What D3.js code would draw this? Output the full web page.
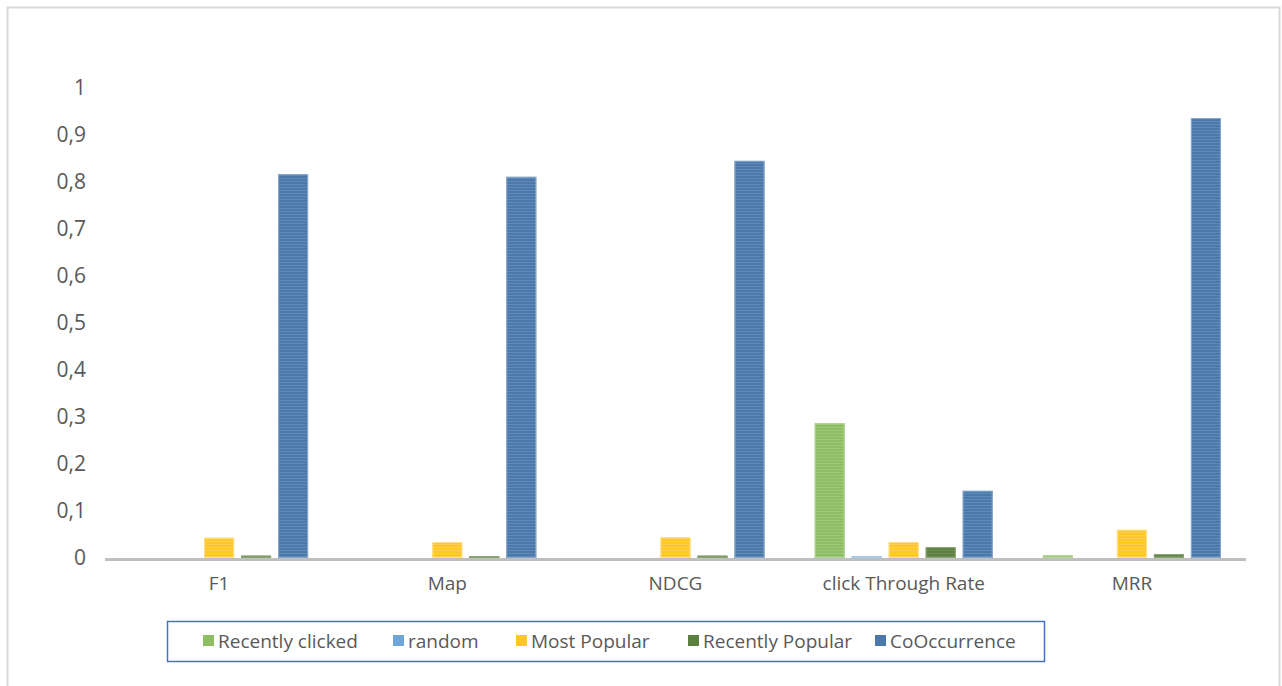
<!DOCTYPE html>
<html><head><meta charset="utf-8">
<script src="https://cdn.jsdelivr.net/npm/d3@7"></script>
<style>body{margin:0;background:#fff}svg{display:block}</style>
</head><body><svg id="c" width="1282" height="686"></svg>
<script>
const categories = ["F1", "Map", "NDCG", "click Through Rate", "MRR"];
const seriesNames = ["Recently clicked", "random", "Most Popular", "Recently Popular", "CoOccurrence"];
const recentlyClicked = [0, 0, 0, 0.287, 0.006];
const random = [0, 0, 0, 0.004, 0];
const mostPopular = [0.043, 0.034, 0.044, 0.034, 0.060];
const recentlyPopular = [0.005, 0.004, 0.005, 0.023, 0.008];
const coOccurrence = [0.817, 0.811, 0.845, 0.143, 0.936];
const yTicks = [0, 0.1, 0.2, 0.3, 0.4, 0.5, 0.6, 0.7, 0.8, 0.9, 1];

const seriesValues = [recentlyClicked, random, mostPopular, recentlyPopular, coOccurrence];
const colors = ["#8DBE64", "#6FA6DA", "#FFC726", "#5A7F3E", "#4A79AA"];
const stripe = ["#9FC87B", "#89B6E2", "#FFD04D", "#6E8E56", "#6189B7"];
const edge = ["#B5D69A", "#A9CBEB", "#FFE08A", "#8AA573", "#86A8CC"];

const svg = d3.select("#c");
const loc = d3.formatLocale({decimal: ",", thousands: ".", grouping: [3], currency: ["", ""]});
const fmt = v => v === 0 ? "0" : (v === 1 ? "1" : loc.format(".1f")(v));

// outer frame
svg.append("rect").attr("x", 7.5).attr("y", 7.5).attr("width", 1272).attr("height", 690)
  .attr("fill", "none").attr("stroke", "#D9D9D9").attr("stroke-width", 2);

const pLeft = 105, pRight = 1246, pTop = 88, pBottom = 558;
const groupW = 178;
const x0 = d3.scaleBand().domain(categories).range([pLeft, pRight]).paddingInner(0).paddingOuter(0);
const x1 = d3.scaleBand().domain(d3.range(5)).range([0, groupW]).paddingInner(7 / 37).paddingOuter(0);
const y = d3.scaleLinear().domain([0, 1]).range([pBottom, pTop]);

const defs = svg.append("defs");
colors.forEach((c, i) => {
  const p = defs.append("pattern").attr("id", "p" + i).attr("patternUnits", "userSpaceOnUse")
    .attr("width", 4).attr("height", 3);
  p.append("rect").attr("width", 4).attr("height", 3).attr("fill", c);
  p.append("rect").attr("y", 1).attr("width", 4).attr("height", 1).attr("fill", stripe[i]);
});

// y axis labels
const yAxis = d3.axisLeft(y).tickValues(yTicks).tickFormat(fmt).tickSize(0).tickPadding(0);
const gy = svg.append("g").attr("transform", "translate(86,0)").call(yAxis);
gy.select(".domain").remove();
gy.selectAll("text").attr("font-family", "Open Sans, sans-serif").attr("font-size", 21).attr("fill", "#595959");

// bars
categories.forEach((cat, ci) => {
  const gx = x0(cat) + (x0.bandwidth() - groupW) / 2;
  seriesValues.forEach((vals, si) => {
    const v = vals[ci];
    if (v <= 0) return;
    const bx = gx + x1(si), bw = x1.bandwidth();
    const by = y(v), bh = pBottom - y(v);
    svg.append("rect").attr("x", bx).attr("y", by).attr("width", bw).attr("height", bh)
      .attr("fill", "url(#p" + si + ")");
    svg.append("rect").attr("x", bx + 0.5).attr("y", by + 0.5).attr("width", bw - 1).attr("height", Math.max(bh - 1, 0))
      .attr("fill", "none").attr("stroke", edge[si]).attr("stroke-width", 1);
  });
});

// x axis line
svg.append("line").attr("x1", pLeft).attr("x2", pRight).attr("y1", pBottom + 1.5).attr("y2", pBottom + 1.5)
  .attr("stroke", "#BFBFBF").attr("stroke-width", 3);

// x labels
const xAxis = d3.axisBottom(x0).tickSize(0).tickPadding(0);
const gxAx = svg.append("g").attr("transform", "translate(0," + (pBottom + 18) + ")").call(xAxis);
gxAx.select(".domain").remove();
gxAx.selectAll("text").attr("font-family", "Open Sans, sans-serif").attr("font-size", 19).attr("fill", "#595959");

// legend
svg.append("rect").attr("x", 167.5).attr("y", 621.5).attr("width", 877).attr("height", 40)
  .attr("fill", "#fff").attr("stroke", "#4472C4").attr("stroke-width", 1.5);
const legX = [203, 393, 516, 688, 875];
seriesNames.forEach((n, i) => {
  const g = svg.append("g").attr("transform", "translate(" + legX[i] + ",641)");
  g.append("rect").attr("x", 0).attr("y", -6).attr("width", 11).attr("height", 11).attr("fill", colors[i]);
  g.append("text").attr("x", 15).attr("y", 0).attr("dy", "0.35em")
    .attr("font-family", "Open Sans, sans-serif").attr("font-size", 19).attr("fill", "#595959").text(n);
});
</script></body></html>
